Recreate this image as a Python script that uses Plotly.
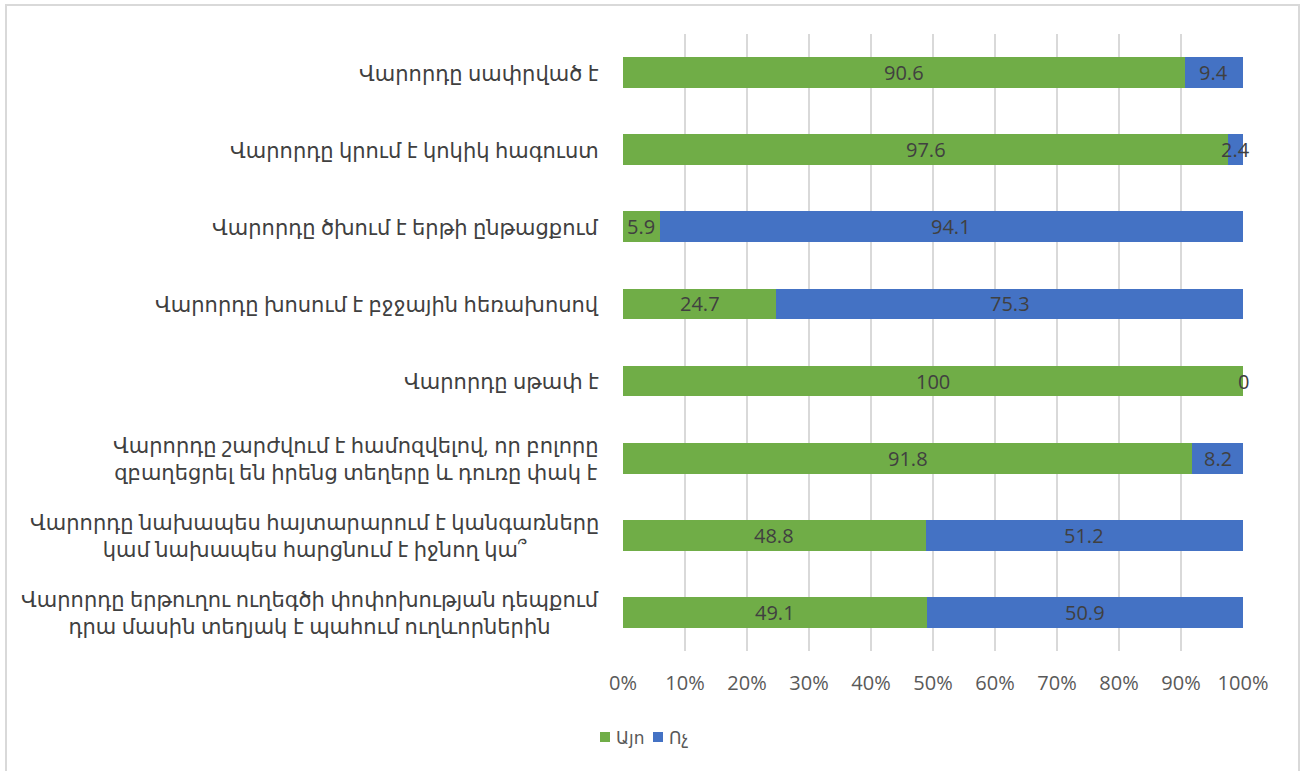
import plotly.graph_objects as go

# Survey statements (top to bottom) and shares of answers, %
categories = [
    "Վարորդը սափրված է",
    "Վարորդը կրում է կոկիկ հագուստ",
    "Վարորդը ծխում է երթի ընթացքում",
    "Վարորդը խոսում է բջջային հեռախոսով",
    "Վարորդը սթափ է",
    "Վարորդը շարժվում է համոզվելով, որ բոլորը<br>զբաղեցրել են իրենց տեղերը և դուռը փակ է",
    "Վարորդը նախապես հայտարարում է կանգառները<br>կամ նախապես հարցնում է իջնող կա՞",
    "Վարորդը երթուղու ուղեգծի փոփոխության դեպքում<br>դրա մասին տեղյակ է պահում ուղևորներին",
]
yes_values = [90.6, 97.6, 5.9, 24.7, 100, 91.8, 48.8, 49.1]
no_values = [9.4, 2.4, 94.1, 75.3, 0, 8.2, 51.2, 50.9]
series_names = ["Այո", "Ոչ"]
x_ticks = [0, 10, 20, 30, 40, 50, 60, 70, 80, 90, 100]
x_tick_labels = [f"{t}%" for t in x_ticks]

GREEN = "#70ad47"
BLUE = "#4472c4"
FONT = "Open Sans, DejaVu Sans, sans-serif"

W, H = 1306, 771
L, R, T, B = 623, 63, 34, 120
PW, PH = W - L - R, H - T - B


def px_x(p):
    return (p - L) / PW


def px_y(p):
    return (H - B - p) / PH


fig = go.Figure()
fig.add_bar(y=categories, x=yes_values, name=series_names[0], orientation="h",
            marker=dict(color=GREEN, line=dict(width=0)), hoverinfo="x+y", showlegend=False)
fig.add_bar(y=categories, x=no_values, name=series_names[1], orientation="h",
            marker=dict(color=BLUE, line=dict(width=0)), hoverinfo="x+y", showlegend=False)

label_font = dict(family=FONT, size=20, color="#404040")
annotations = []
# value labels centred in each segment
for cat, yv, nv in zip(categories, yes_values, no_values):
    annotations.append(dict(x=yv / 2, y=cat, xref="x", yref="y", text=f"{yv:g}",
                            showarrow=False, font=label_font))
    annotations.append(dict(x=yv + nv / 2, y=cat, xref="x", yref="y", text=f"{nv:g}",
                            showarrow=False, font=label_font))
# category labels, lines centred within each label block
for cat in categories:
    annotations.append(dict(x=px_x(601), y=cat, xref="paper", yref="y", text=cat,
                            xanchor="right", align="center", showarrow=False,
                            font=dict(family=FONT, size=21, color="#404040")))

# legend: colour key squares with series names
shapes = []
legend_items = [(600, 614, GREEN, series_names[0]), (653, 667, BLUE, series_names[1])]
for sq_x, txt_x, color, name in legend_items:
    shapes.append(dict(type="rect", xref="paper", yref="paper",
                       x0=px_x(sq_x), x1=px_x(sq_x + 10), y0=px_y(742), y1=px_y(732),
                       fillcolor=color, line=dict(width=0)))
    annotations.append(dict(x=px_x(txt_x), y=px_y(737), xref="paper", yref="paper", text=name,
                            xanchor="left", yanchor="middle", showarrow=False,
                            font=dict(family=FONT, size=17, color="#595959")))

# outer chart frame
shapes.append(dict(type="rect", xref="paper", yref="paper",
                   x0=px_x(6), x1=px_x(1299), y0=px_y(790), y1=px_y(5),
                   line=dict(color="#d9d9d9", width=2), fillcolor="rgba(0,0,0,0)", layer="below"))

fig.update_layout(
    width=W, height=H,
    margin=dict(l=L, r=R, t=T, b=B),
    barmode="stack", bargap=0.6,
    paper_bgcolor="white", plot_bgcolor="white",
    showlegend=False,
    xaxis=dict(range=[0, 100], tickvals=x_ticks, ticktext=x_tick_labels,
               showgrid=True, gridcolor="#d9d9d9", gridwidth=2, zeroline=False,
               showline=False, ticks="", ticklabelstandoff=18,
               tickfont=dict(family=FONT, size=20, color="#595959"), fixedrange=True),
    yaxis=dict(categoryorder="array", categoryarray=categories, autorange="reversed",
               showticklabels=False, showgrid=False, zeroline=False, showline=False,
               ticks="", fixedrange=True),
    annotations=annotations,
    shapes=shapes,
)

fig.write_html("out.html")
